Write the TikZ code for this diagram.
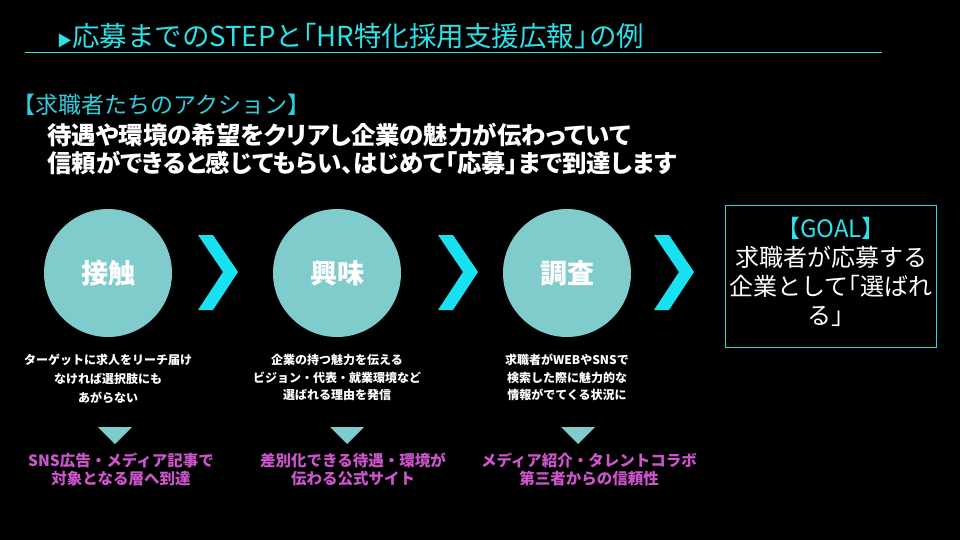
\documentclass[tikz,border=0pt]{standalone}
\usepackage{fontspec}
\setmainfont{Noto Sans CJK JP}
\newfontfamily\propjp{Noto Sans CJK JP}[RawFeature=+palt]
\usetikzlibrary{positioning}
\definecolor{headcyan}{RGB}{45,225,230}
\definecolor{actcyan}{RGB}{50,205,220}
\definecolor{boxcyan}{RGB}{50,210,220}
\definecolor{chevcyan}{RGB}{25,225,240}
\definecolor{circteal}{RGB}{128,204,204}
\definecolor{mediapink}{RGB}{204,85,204}
% tight corner brackets
\newcommand{\obrk}{\kern-0.5em「}
\newcommand{\cbrk}{」\kern-0.45em}
\begin{document}
\begin{tikzpicture}[
  x=1pt,y=-1pt,
  node distance=17pt and 10pt,
  stage/.style={circle,fill=circteal,minimum size=128pt,inner sep=0pt,text=white,font=\fontsize{27}{27}\selectfont\bfseries},
  desc/.style={align=center,text=white,inner sep=0pt,font=\fontsize{12}{17.5}\selectfont\bfseries},
  media/.style={align=center,text=mediapink,inner sep=0pt,font=\fontsize{15.5}{18}\selectfont\bfseries},
  goalbox/.style={draw=boxcyan,line width=1pt,minimum width=211pt,minimum height=142pt},
  goaltext/.style={align=center,text=white,inner sep=0pt,font=\fontsize{24}{29}\selectfont},
  chev/.style={fill=chevcyan},
  pointer/.style={fill=circteal}
]
\fill[black] (0,0) rectangle (960,540);
\useasboundingbox (0,0) rectangle (960,540);

% heading
\node[anchor=west,inner sep=0pt,text=headcyan,font=\fontsize{27.5}{27.5}\selectfont] (title) at (57,36)
  {{\fontsize{15}{15}\selectfont ▶}応募までのSTEPと\obrk HR特化採用支援広報\cbrk の例};
\draw[headcyan,line width=0.8pt] (25,52) -- (882,52);

% action text
\node[anchor=west,inner sep=0pt,text=actcyan,font=\fontsize{23}{23}\selectfont] (action) at (12,105) {【求職者たちのアクション】};
\node[anchor=north west,inner sep=0pt,align=left,text=white,font=\propjp\fontsize{24.4}{28}\selectfont\bfseries] (intro) at (47,123)
  {待遇や環境の希望をクリアし企業の魅力が伝わっていて\\信頼ができると感じてもらい、はじめて「応募」まで到達します};

% stages
\node[stage] (touch) at (108,273) {接触};
\node[stage] (interest) at (337,273) {興味};
\node[stage] (survey) at (567,273) {調査};
\node[goalbox] (goal) at (830.5,276) {};
\node[goaltext] (goaltxt) at (831,272) {{\color{headcyan}【GOAL】}\\求職者が応募する\\企業として\obrk 選ばれ\\る」};

\foreach \cx in {198,438,654}
  \fill[chev] (\cx,235) -- ++(15,0) -- ++(25,37) -- ++(-25,38) -- ++(-15,0) -- ++(25,-38) -- cycle;

% descriptions
\node[desc,below=of touch,font=\fontsize{12}{19}\selectfont\bfseries] (touchdesc) {ターゲットに求人をリーチ届け\\なければ選択肢にも\\あがらない};
\node[desc,below=of interest] (interestdesc) {企業の持つ魅力を伝える\\ビジョン・代表・就業環境など\\選ばれる理由を発信};
\node[desc,below=of survey] (surveydesc) {求職者がWEBやSNSで\\検索した際に魅力的な\\情報がでてくる状況に};

\foreach \px in {115,347,578}
  \fill[pointer] (\px-17,427) -- (\px+17,427) -- (\px,444) -- cycle;

% media
\node[media] (touchmedia) at (121,469) {SNS広告・メディア記事で\\対象となる層へ到達};
\node[media] (interestmedia) at (353,469) {差別化できる待遇・環境が\\伝わる公式サイト};
\node[media] (surveymedia) at (589,469) {メディア紹介・タレントコラボ\\第三者からの信頼性};
\end{tikzpicture}
\end{document}
